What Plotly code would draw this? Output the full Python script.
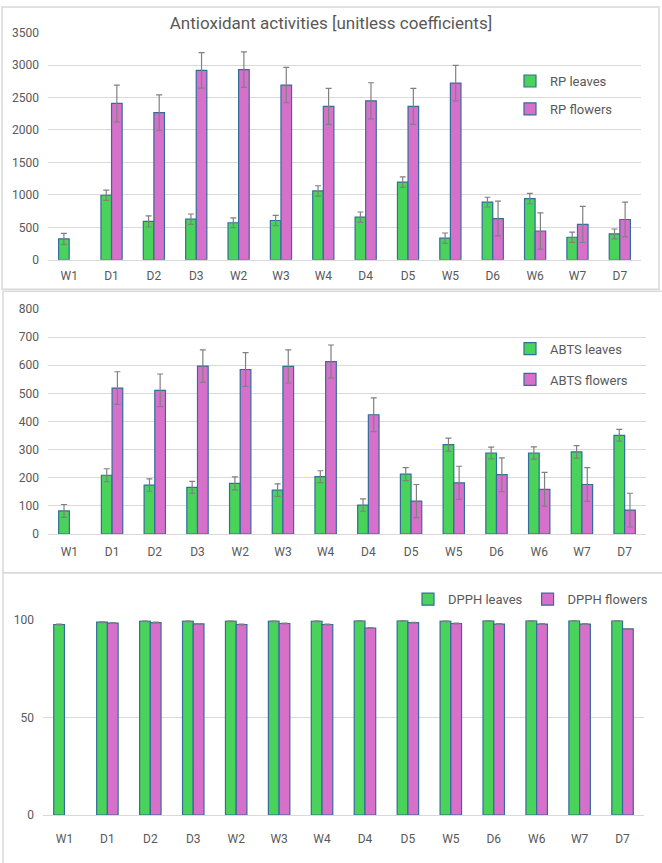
import plotly.graph_objects as go

categories = ["W1", "D1", "D2", "D3", "W2", "W3", "W4", "D4", "D5", "W5", "D6", "W6", "W7", "D7"]

rp_leaves = [323, 995, 591, 626, 571, 606, 1061, 657, 1197, 333, 889, 944, 348, 399]
rp_leaves_err = [85, 80, 85, 80, 75, 80, 80, 80, 80, 80, 75, 80, 80, 76]
rp_flowers = [None, 2409, 2268, 2919, 2929, 2692, 2364, 2449, 2364, 2722, 636, 444, 545, 621]
rp_flowers_err = [0, 283, 272, 273, 273, 273, 277, 278, 277, 273, 268, 278, 278, 268]

abts_leaves = [82, 209, 174, 166, 180, 156, 204, 103, 213, 318, 288, 288, 292, 351]
abts_leaves_err = [23, 23, 22, 21, 23, 22, 21, 22, 23, 23, 21, 22, 22, 21]
abts_flowers = [None, 519, 511, 597, 585, 596, 613, 424, 117, 182, 211, 159, 176, 85]
abts_flowers_err = [0, 58, 58, 58, 60, 59, 59, 60, 59, 59, 60, 60, 60, 60]

dpph_leaves = [97.8, 99.0, 99.5, 99.5, 99.5, 99.5, 99.5, 99.7, 99.7, 99.5, 99.7, 99.7, 99.7, 99.7]
dpph_leaves_err = [0.2] * 14
dpph_flowers = [None, 98.5, 98.8, 98.1, 97.8, 98.3, 97.8, 96.0, 98.7, 98.3, 98.0, 98.0, 98.0, 95.5]
dpph_flowers_err = [0, 0.2, 0.2, 0.2, 0.2, 0.2, 0.2, 0.2, 0.2, 0.2, 0.2, 0.2, 0.2, 0.2]

title_text = "Antioxidant activities [unitless coefficients]"

W, H = 662, 863
GREEN = "#49d35b"
PINK = "#d770cb"
EDGE = "#336d99"
TXT = "#595959"
GRID = "#d9d9d9"
FONT = "Roboto"


def px_x(v):
    return v / W


def px_y(v):
    return 1 - v / H


fig = go.Figure()

panels = [
    ("x", "y", "legend", "RP", rp_leaves, rp_leaves_err, rp_flowers, rp_flowers_err),
    ("x2", "y2", "legend2", "ABTS", abts_leaves, abts_leaves_err, abts_flowers, abts_flowers_err),
    ("x3", "y3", "legend3", "DPPH", dpph_leaves, dpph_leaves_err, dpph_flowers, dpph_flowers_err),
]

for xa, ya, lg, name, lv, le, fv, fe in panels:
    fig.add_trace(go.Bar(
        x=categories, y=lv, name=f"{name} leaves", xaxis=xa, yaxis=ya, legend=lg,
        legendgroup=f"{name}l", offsetgroup="l",
        marker=dict(color=GREEN, line=dict(color=EDGE, width=1.2)),
        error_y=dict(type="data", array=le, color="#808080", thickness=1.2, width=3),
    ))
    fig.add_trace(go.Bar(
        x=categories, y=fv, name=f"{name} flowers", xaxis=xa, yaxis=ya, legend=lg,
        legendgroup=f"{name}f", offsetgroup="f",
        marker=dict(color=PINK, line=dict(color=EDGE, width=1.2)),
        error_y=dict(type="data", array=fe, color="#808080", thickness=1.2, width=3),
    ))

axis_common = dict(
    showgrid=False, showline=True, linecolor=GRID, linewidth=1,
    ticks="", tickfont=dict(family=FONT, size=12, color=TXT), fixedrange=True,
)
yaxis_common = dict(
    showgrid=True, gridcolor=GRID, gridwidth=1, zeroline=False, showline=False,
    ticks="", tickfont=dict(family=FONT, size=12, color=TXT), ticklabelstandoff=8,
)

fig.update_layout(
    width=W, height=H,
    margin=dict(l=0, r=0, t=0, b=0),
    paper_bgcolor="white", plot_bgcolor="white",
    barmode="group", bargap=0.5, bargroupgap=0.0,
    font=dict(family=FONT, color=TXT),
    title=dict(text=title_text, x=px_x(331), xanchor="center", y=px_y(23), yanchor="middle",
               font=dict(family=FONT, size=17, color=TXT)),
    xaxis=dict(domain=[px_x(48), px_x(641)], anchor="y", ticklabelstandoff=5, **axis_common),
    yaxis=dict(domain=[px_y(257), px_y(26)], anchor="x", range=[0, 3500], dtick=500, **yaxis_common),
    xaxis2=dict(domain=[px_x(48), px_x(646)], anchor="y2", ticklabelstandoff=7, **axis_common),
    yaxis2=dict(domain=[px_y(535.7), px_y(307)], anchor="x2", range=[0, 800], dtick=100, **yaxis_common),
    xaxis3=dict(domain=[px_x(43), px_x(644)], anchor="y3", ticklabelstandoff=13, **axis_common),
    yaxis3=dict(domain=[px_y(821.3), px_y(623.3)], anchor="x3", range=[0, 100], dtick=50, **yaxis_common),
    legend=dict(x=px_x(510), y=px_y(60), xanchor="left", yanchor="top", orientation="v",
                traceorder="grouped", tracegroupgap=8, bgcolor="rgba(0,0,0,0)",
                font=dict(family=FONT, size=13, color=TXT), itemwidth=30),
    legend2=dict(x=px_x(510), y=px_y(332), xanchor="left", yanchor="top", orientation="v",
                 traceorder="grouped", tracegroupgap=11, bgcolor="rgba(0,0,0,0)",
                 font=dict(family=FONT, size=13, color=TXT), itemwidth=30),
    legend3=dict(x=px_x(408), y=px_y(602), xanchor="left", yanchor="middle", orientation="h",
                 bgcolor="rgba(0,0,0,0)",
                 font=dict(family=FONT, size=13, color=TXT), itemwidth=30),
    showlegend=True,
)

# panel frames
frames = [(2, 0, 659, 287), (3, 289, 670, 575), (3, 575, 670, 880)]
for x0, y0, x1, y1 in frames:
    fig.add_shape(type="rect", xref="paper", yref="paper",
                  x0=px_x(x0), x1=px_x(x1), y0=px_y(y0), y1=px_y(y1),
                  line=dict(color=GRID, width=1.5), fillcolor="rgba(0,0,0,0)", layer="below")

fig.write_html("out.html")
